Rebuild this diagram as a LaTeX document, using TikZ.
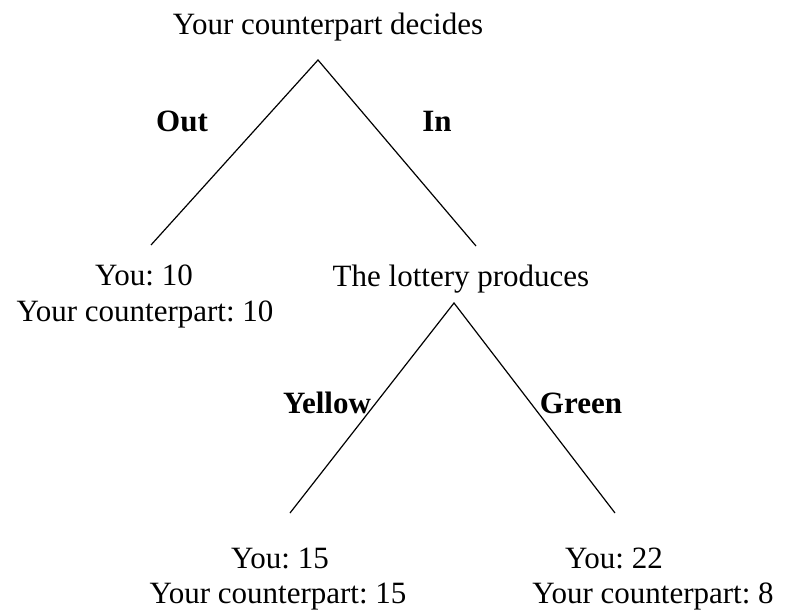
\documentclass[tikz,border=0pt]{standalone}
\usepackage{fontspec}
\setmainfont{Liberation Serif}
\usepackage{tikz}
\usetikzlibrary{positioning}
\frenchspacing

\begin{document}
\begin{tikzpicture}[
      x=1pt, y=-1pt,
      txt/.style={anchor=base, inner sep=0pt, font=\fontsize{31}{36}\selectfont},
      lbl/.style={txt, font=\fontsize{31}{36}\selectfont\bfseries},
      branch/.style={line width=1.2pt}
    ]
      \useasboundingbox (0,0) rectangle (802,612);
      % first move
      \node[txt] (decide) at (328,35) {Your counterpart decides};
      \coordinate (root) at (318,60);
      \coordinate (outend) at (151,245);
      \coordinate (inend) at (476,246);
      \draw[branch] (outend) -- (root) -- (inend);
      \node[lbl] (out) at (182,132) {Out};
      \node[lbl] (in) at (437,132) {In};

      \node[txt] (you10) at (144,285) {You: 10};
      \node[txt] (cp10) at (145,321) {Your counterpart: 10};

      % lottery
      \node[txt] (lottery) at (461,286) {The lottery produces};
      \coordinate (lot) at (454,303);
      \coordinate (yelend) at (290,513);
      \coordinate (grnend) at (615,513);
      \draw[branch] (yelend) -- (lot) -- (grnend);
      \node[lbl] (yellow) at (327,413) {Yellow};
      \node[lbl] (green) at (581,413) {Green};

      \node[txt] (you15) at (280,568) {You: 15};
      \node[txt] (cp15) at (278,603) {Your counterpart: 15};
      \node[txt] (you22) at (614,568) {You: 22};
      \node[txt] (cp8) at (653,603) {Your counterpart: 8};
    \end{tikzpicture}
\end{document}
